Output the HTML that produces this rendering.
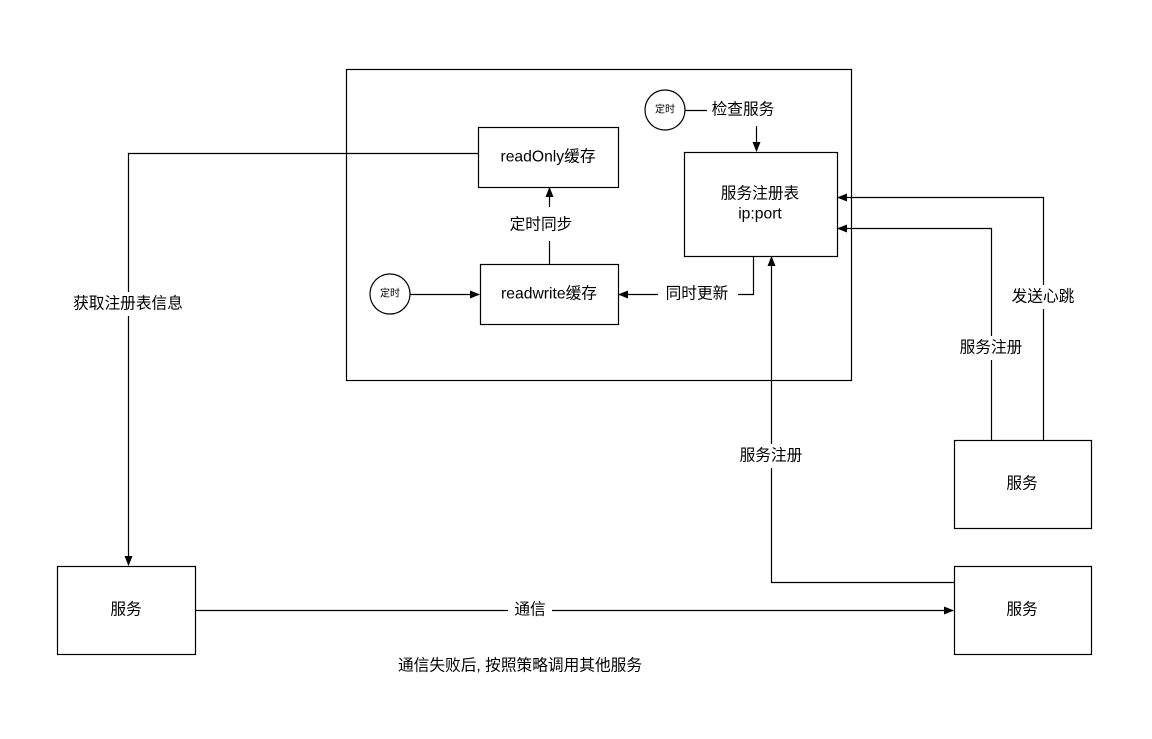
<!DOCTYPE html>
<html><head><meta charset="utf-8"><style>
html,body{margin:0;padding:0;background:#fff;}
svg text{font-family:"Liberation Sans","Noto Sans CJK SC",sans-serif;font-size:15.7px;fill:#000;}
</style></head><body>
<svg width="1152" height="734" viewBox="0 0 1152 734" xmlns="http://www.w3.org/2000/svg">
<defs><marker id="a" markerWidth="10" markerHeight="10" refX="9" refY="5" orient="auto" markerUnits="userSpaceOnUse"><path d="M0,1 L10,5 L0,9 Z" fill="#000"/></marker></defs>
<g fill="#fff" stroke="#000" stroke-width="1.2">
<rect x="346.5" y="69.5" width="505" height="311"/>
<rect x="478.5" y="127.5" width="140" height="60"/>
<rect x="480.5" y="264.5" width="138" height="60"/>
<rect x="684.5" y="152.5" width="153" height="104"/>
<circle cx="665" cy="110" r="20"/>
<circle cx="390" cy="294" r="20"/>
<rect x="57.5" y="566.5" width="138" height="88"/>
<rect x="954.5" y="566.5" width="137" height="88"/>
<rect x="954.5" y="440.5" width="137" height="88"/>
</g>
<g fill="none" stroke="#000" stroke-width="1.2">
<path d="M685,110.5 H707"/>
<path d="M756.5,126 V151" marker-end="url(#a)"/>
<path d="M549.5,264 V241"/>
<path d="M549.5,207 V188" marker-end="url(#a)"/>
<path d="M753.5,256 V294.5 H738"/>
<path d="M658,294.5 H619" marker-end="url(#a)"/>
<path d="M410,294.5 H479" marker-end="url(#a)"/>
<path d="M478,153.5 H128.5 V565" marker-end="url(#a)"/>
<path d="M195,610.5 H953" marker-end="url(#a)"/>
<path d="M954,582.5 H771.5 V257" marker-end="url(#a)"/>
<path d="M991.5,440 V228.5 H838" marker-end="url(#a)"/>
<path d="M1043.5,440 V197.5 H838" marker-end="url(#a)"/>
</g>
<g text-anchor="middle" dominant-baseline="central">
<rect x="505" y="214" width="72" height="22" fill="#fff"/>
<text x="541" y="225">定时同步</text>
<text x="743" y="110">检查服务</text>
<text x="697" y="294">同时更新</text>
<text x="548" y="157">readOnly缓存</text>
<text x="549" y="294">readwrite缓存</text>
<text x="760" y="194">服务注册表</text>
<text x="760" y="214">ip:port</text>
<text x="665" y="110" style="font-size:10px">定时</text>
<text x="390" y="294" style="font-size:10px">定时</text>
<rect x="64" y="292" width="128" height="24" fill="#fff"/>
<text x="128" y="304">获取注册表信息</text>
<text x="126" y="610">服务</text>
<text x="1022" y="610">服务</text>
<text x="1022" y="484">服务</text>
<rect x="508" y="598" width="44" height="24" fill="#fff"/>
<text x="530" y="610">通信</text>
<rect x="734" y="444" width="74" height="24" fill="#fff"/>
<text x="771" y="456">服务注册</text>
<rect x="953" y="336" width="76" height="24" fill="#fff"/>
<text x="991" y="348">服务注册</text>
<rect x="1006" y="285" width="76" height="24" fill="#fff"/>
<text x="1043" y="297">发送心跳</text>
<text x="520" y="666">通信失败后, 按照策略调用其他服务</text>
</g>
</svg>
</body></html>
